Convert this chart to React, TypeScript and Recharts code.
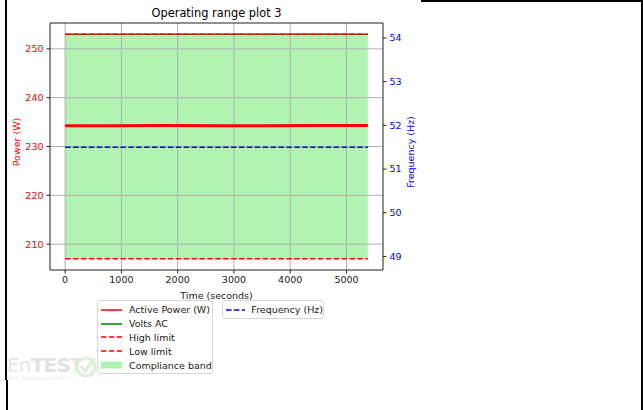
import React from "react";
import {
  ComposedChart,
  Area,
  Line,
  XAxis,
  YAxis,
  ReferenceLine,
} from "recharts";

// sample times and readings
const TIME_S = [0, 900, 1800, 2700, 3600, 4500, 5380];
const ACTIVE_POWER_W = [234.25, 234.25, 234.3, 234.25, 234.25, 234.3, 234.3];
const VOLTS_AC = [253.0, 253.0, 253.0, 253.0, 253.0, 253.0, 253.0];
const HIGH_LIMIT = [253, 253, 253, 253, 253, 253, 253];
const LOW_LIMIT = [207, 207, 207, 207, 207, 207, 207];
const FREQUENCY_HZ = [51.5, 51.5, 51.5, 51.5, 51.5, 51.5, 51.5];

const TIME_TICKS = [0, 1000, 2000, 3000, 4000, 5000];
const POWER_TICKS = [210, 220, 230, 240, 250];
const FREQ_TICKS = [49, 50, 51, 52, 53, 54];

const TIME_DOMAIN: [number, number] = [-269, 5649];
const POWER_DOMAIN: [number, number] = [204.7, 255.3];
const FREQ_DOMAIN: [number, number] = [48.69, 54.342];

const rows = TIME_S.map((t, i) => ({
  t,
  power: ACTIVE_POWER_W[i],
  volts: VOLTS_AC[i],
  high: HIGH_LIMIT[i],
  low: LOW_LIMIT[i],
  band: [LOW_LIMIT[i], HIGH_LIMIT[i]],
  freq: FREQUENCY_HZ[i],
}));

const FONT = "'DejaVu Sans', sans-serif";
const DASH = "5.5 2.4";
const TEXT = "#222";
const GRID = "#b0b0b0";

type Handle = "line" | "dash" | "patch";
const MAIN_LEGEND: { label: string; color: string; kind: Handle }[] = [
  { label: "Active Power (W)", color: "#ff0000", kind: "line" },
  { label: "Volts AC", color: "#008000", kind: "line" },
  { label: "High limit", color: "#ff0000", kind: "dash" },
  { label: "Low limit", color: "#ff0000", kind: "dash" },
  { label: "Compliance band", color: "#b1f3b1", kind: "patch" },
];
const FREQ_LEGEND: { label: string; color: string; kind: Handle }[] = [
  { label: "Frequency (Hz)", color: "#0000ff", kind: "dash" },
];

function LegendBox({
  items,
  left,
  top,
  width,
}: {
  items: { label: string; color: string; kind: Handle }[];
  left: number;
  top: number;
  width: number;
}) {
  return (
    <div
      style={{
        position: "absolute",
        left,
        top,
        width,
        padding: "2px 0 1px 0",
        border: "1px solid #d6d6d6",
        borderRadius: 3,
        background: "rgba(255,255,255,0.8)",
        fontFamily: FONT,
        fontSize: 9.5,
        color: TEXT,
        boxSizing: "border-box",
      }}
    >
      {items.map((it) => (
        <div
          key={it.label}
          style={{ display: "flex", alignItems: "center", height: 13.8 }}
        >
          <svg width={22} height={10} style={{ marginLeft: 3, marginRight: 6 }}>
            {it.kind === "patch" ? (
              <rect x={0} y={1.5} width={21} height={7} fill={it.color} />
            ) : (
              <line
                x1={0}
                x2={21}
                y1={5}
                y2={5}
                stroke={it.color}
                strokeWidth={1.5}
                strokeDasharray={it.kind === "dash" ? DASH : undefined}
              />
            )}
          </svg>
          <span style={{ whiteSpace: "nowrap" }}>{it.label}</span>
        </div>
      ))}
    </div>
  );
}

function Watermark() {
  return (
    <div style={{ position: "absolute", left: 7, top: 355, width: 95, height: 30 }}>
      <span
        style={{
          position: "absolute",
          left: 0,
          top: 0,
          fontFamily: FONT,
          fontSize: 20,
          letterSpacing: -0.8,
          color: "#e6e6e6",
          lineHeight: "20px",
        }}
      >
        En<span style={{ fontWeight: 600, color: "#e2e2e2" }}>TEST</span>
      </span>
      <svg
        width={22}
        height={24}
        style={{ position: "absolute", left: 68, top: 0 }}
      >
        <circle cx={11} cy={12} r={9} fill="none" stroke="#dcefdc" strokeWidth={3} />
        <path d="M6 11 L10 16 L20 3" fill="none" stroke="#dcefdc" strokeWidth={3} />
      </svg>
      <span
        style={{
          position: "absolute",
          left: 0,
          top: 21,
          fontFamily: FONT,
          fontSize: 4.5,
          lineHeight: "5px",
          color: "#e6e6e6",
          whiteSpace: "nowrap",
        }}
      >
        TEST | EVALUATE | CERTIFY
      </span>
    </div>
  );
}

export default function App() {
  return (
    <div
      style={{
        position: "absolute",
        left: 0,
        top: 0,
        width: 643,
        height: 410,
        background: "#fff",
        overflow: "hidden",
      }}
    >
      {/* page frame edges */}
      <div style={{ position: "absolute", left: 5, top: 0, width: 2, height: 380, background: "#000" }} />
      <div style={{ position: "absolute", left: 6, top: 380, width: 2, height: 30, background: "#000" }} />
      <div style={{ position: "absolute", left: 421, top: 0, width: 222, height: 2, background: "#000" }} />
      <div style={{ position: "absolute", left: 641, top: 0, width: 2, height: 410, background: "#000" }} />

      <Watermark />

      <ComposedChart
        width={643}
        height={410}
        data={rows}
        margin={{ top: 23, right: 220, bottom: 110, left: 10 }}
        style={{ position: "absolute", left: 0, top: 0, fontFamily: FONT }}
      >
        <XAxis
          dataKey="t"
          type="number"
          domain={TIME_DOMAIN}
          ticks={TIME_TICKS}
          height={30}
          tickSize={3.5}
          tickMargin={3}
          stroke={TEXT}
          tick={{ fill: TEXT, fontSize: 9.5 }}
          allowDataOverflow
        />
        <YAxis
          yAxisId="left"
          orientation="left"
          domain={POWER_DOMAIN}
          ticks={POWER_TICKS}
          width={40}
          tickSize={3.5}
          tickMargin={3}
          stroke={TEXT}
          tick={{ fill: "#ff0000", fontSize: 9.5 }}
          allowDataOverflow
        />
        <YAxis
          yAxisId="right"
          orientation="right"
          domain={FREQ_DOMAIN}
          ticks={FREQ_TICKS}
          width={40}
          tickSize={3.5}
          tickMargin={3}
          stroke={TEXT}
          tick={{ fill: "#0000ff", fontSize: 9.5 }}
          allowDataOverflow
        />

        <Area
          yAxisId="left"
          dataKey="band"
          stroke="none"
          fill="#90ee90"
          fillOpacity={0.7}
          isAnimationActive={false}
          name="Compliance band"
        />

        {TIME_TICKS.map((x) => (
          <ReferenceLine key={`gx${x}`} yAxisId="left" x={x} stroke={GRID} strokeWidth={1} />
        ))}
        {POWER_TICKS.map((y) => (
          <ReferenceLine key={`gy${y}`} yAxisId="left" y={y} stroke={GRID} strokeWidth={1} />
        ))}
        <ReferenceLine yAxisId="left" y={POWER_DOMAIN[1]} stroke={TEXT} strokeWidth={1} />

        <Line
          yAxisId="left"
          dataKey="power"
          stroke="#ff0000"
          strokeWidth={3.2}
          dot={false}
          isAnimationActive={false}
          name="Active Power (W)"
        />
        <Line
          yAxisId="left"
          dataKey="volts"
          stroke="#008000"
          strokeWidth={1.5}
          dot={false}
          isAnimationActive={false}
          name="Volts AC"
        />
        <Line
          yAxisId="left"
          dataKey="high"
          stroke="#ff0000"
          strokeWidth={1.5}
          strokeDasharray={DASH}
          dot={false}
          isAnimationActive={false}
          name="High limit"
        />
        <Line
          yAxisId="left"
          dataKey="low"
          stroke="#ff0000"
          strokeWidth={1.5}
          strokeDasharray={DASH}
          dot={false}
          isAnimationActive={false}
          name="Low limit"
        />
        <Line
          yAxisId="right"
          dataKey="freq"
          stroke="#0000ff"
          strokeWidth={1.5}
          strokeDasharray={DASH}
          dot={false}
          isAnimationActive={false}
          name="Frequency (Hz)"
        />
      </ComposedChart>

      {/* title and axis labels */}
      <div
        style={{
          position: "absolute",
          left: 216.5,
          top: 13,
          transform: "translate(-50%, -50%)",
          fontFamily: FONT,
          fontSize: 11.4,
          color: "#000",
          whiteSpace: "nowrap",
        }}
      >
        Operating range plot 3
      </div>
      <div
        style={{
          position: "absolute",
          left: 216.5,
          top: 295,
          transform: "translate(-50%, -50%)",
          fontFamily: FONT,
          fontSize: 9.5,
          color: TEXT,
          whiteSpace: "nowrap",
        }}
      >
        Time (seconds)
      </div>
      <div
        style={{
          position: "absolute",
          left: 16,
          top: 142,
          transform: "translate(-50%, -50%) rotate(-90deg)",
          fontFamily: FONT,
          fontSize: 9.5,
          color: "#ff0000",
          whiteSpace: "nowrap",
        }}
      >
        Power (W)
      </div>
      <div
        style={{
          position: "absolute",
          left: 410,
          top: 152,
          transform: "translate(-50%, -50%) rotate(-90deg)",
          fontFamily: FONT,
          fontSize: 9.5,
          color: "#0000ff",
          whiteSpace: "nowrap",
        }}
      >
        Frequency (Hz)
      </div>

      <LegendBox items={MAIN_LEGEND} left={97} top={300} width={116} />
      <LegendBox items={FREQ_LEGEND} left={222} top={300} width={102} />
    </div>
  );
}
